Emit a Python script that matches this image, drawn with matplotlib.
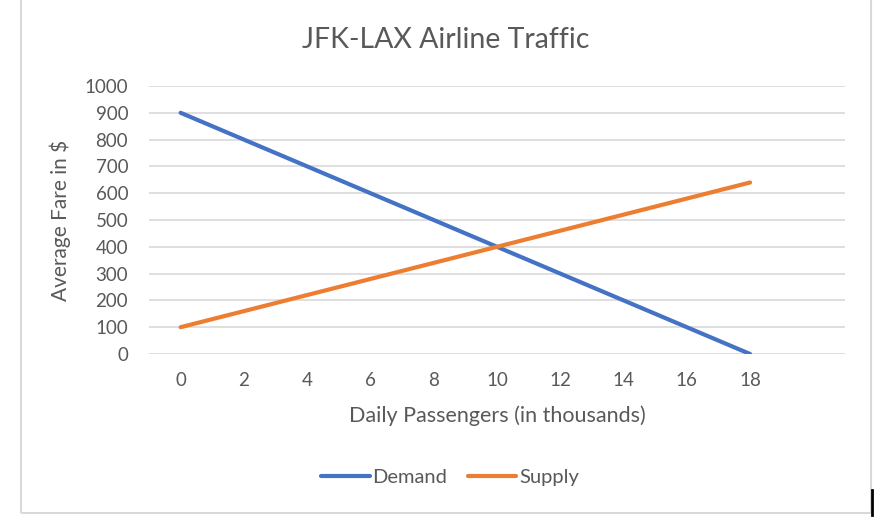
import matplotlib.pyplot as plt
from matplotlib.patches import Rectangle

# data
passengers = [0, 2, 4, 6, 8, 10, 12, 14, 16, 18]
demand = [900, 800, 700, 600, 500, 400, 300, 200, 100, 0]
supply = [100, 160, 220, 280, 340, 400, 460, 520, 580, 640]
y_ticks = [0, 100, 200, 300, 400, 500, 600, 700, 800, 900, 1000]

plt.rcParams['font.family'] = ['Lato', 'DejaVu Sans']
text_color = '#595959'
grid_color = '#d9d9d9'

fig = plt.figure(figsize=(8.92, 5.18), dpi=100)
ax = fig.add_axes([149 / 892, 1 - 354 / 518, (845 - 149) / 892, (354 - 86) / 518])

ax.plot(passengers, demand, color='#4472c4', lw=3, solid_capstyle='round', label='Demand')
ax.plot(passengers, supply, color='#ed7d31', lw=3, solid_capstyle='round', label='Supply')

ax.set_xlim(-1, 21)
ax.set_ylim(0, 1000)
ax.set_xticks(passengers)
ax.set_yticks(y_ticks)
ax.grid(axis='y', color=grid_color, lw=1.2)
ax.set_axisbelow(True)
for s in ax.spines.values():
    s.set_visible(False)
ax.tick_params(length=0, labelsize=13.5, labelcolor=text_color)
ax.tick_params(axis='y', pad=15)
ax.tick_params(axis='x', pad=13)

fig.text(0.5, 1 - 40 / 518, 'JFK-LAX Airline Traffic', fontsize=20.5, color=text_color,
         ha='center', va='center')
ax.set_xlabel('Daily Passengers (in thousands)', fontsize=15.5, color=text_color, labelpad=12)
ax.set_ylabel('Average Fare in $', fontsize=15, color=text_color, labelpad=10)

ax.legend(loc='center', bbox_to_anchor=(450 / 892, 1 - 477 / 518), bbox_transform=fig.transFigure,
          ncol=2, frameon=False, fontsize=14.5, labelcolor=text_color, handlelength=2.4,
          handletextpad=0.15, columnspacing=1.0)

# outer chart border
fig.patches.append(Rectangle((21 / 892, 1 - 513 / 518), 850 / 892, 520 / 518,
                             transform=fig.transFigure, fill=False, ec=grid_color, lw=1.5))
fig.add_artist(plt.Line2D([872 / 892, 872 / 892], [1 - 490 / 518, 1 - 515 / 518],
                          transform=fig.transFigure, color='black', lw=2))

fig.savefig('out.png', dpi=100)
